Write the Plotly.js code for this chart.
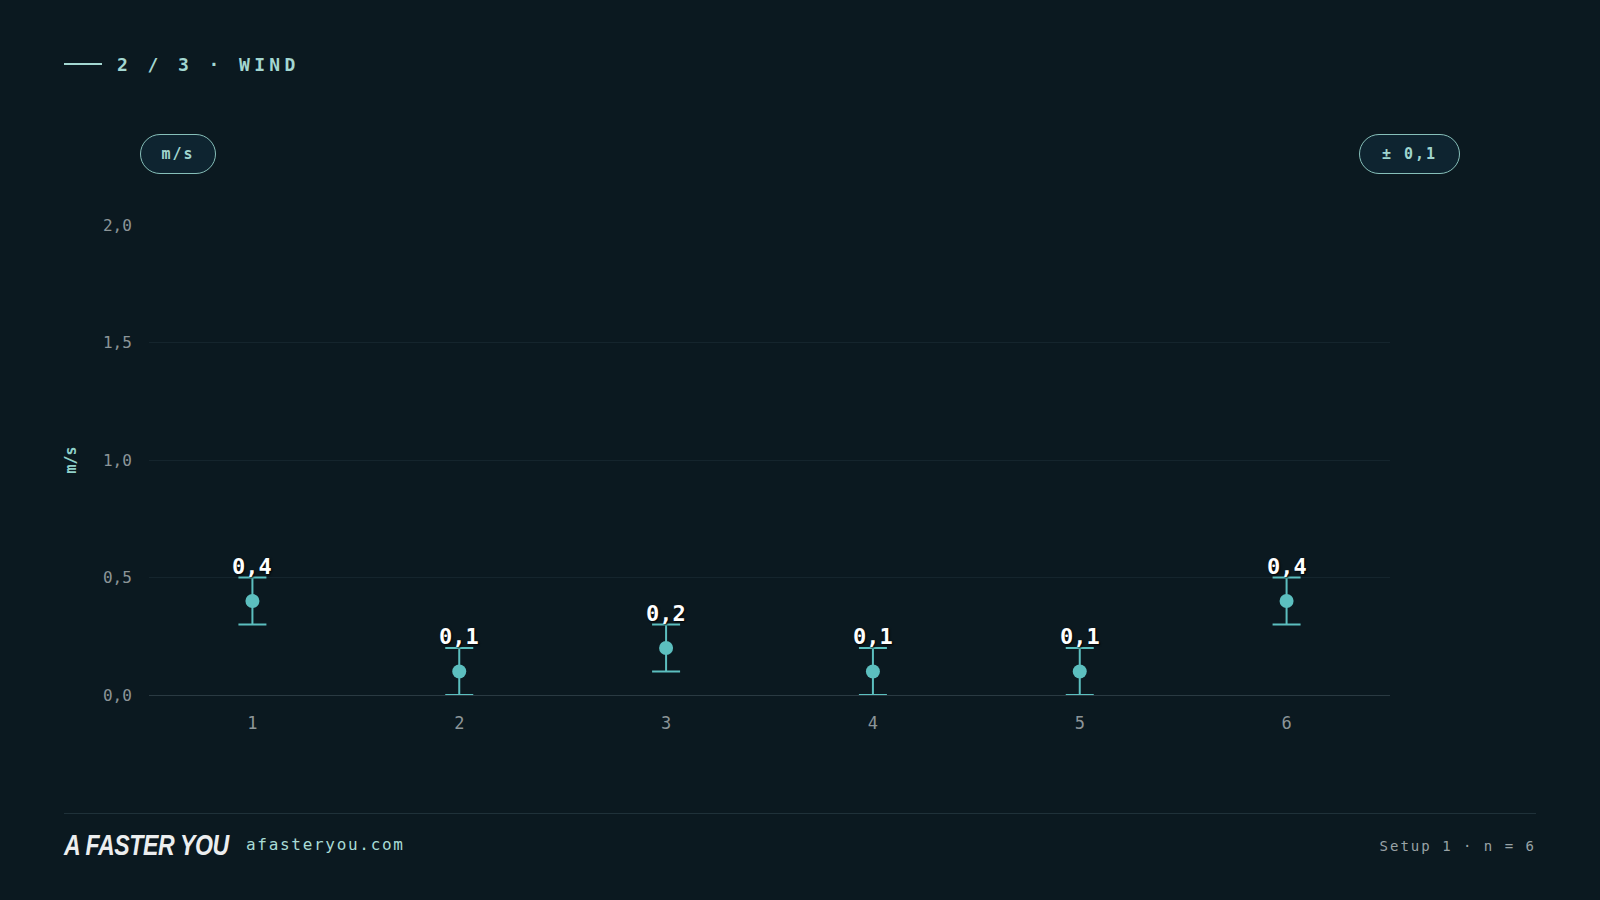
<!DOCTYPE html>
<html>
<head>
<meta charset="utf-8">
<script src="https://cdn.plot.ly/plotly-3.0.1.min.js"></script>
<style>
  html, body { margin: 0; padding: 0; background: #0b1920; width: 1600px; height: 900px; overflow: hidden; }
  #wrap { position: relative; width: 1600px; height: 900px; }
  #chart { position: absolute; left: 0; top: 0; width: 1600px; height: 900px; }
  .ov { position: absolute; pointer-events: none; font-family: "DejaVu Sans Mono", monospace; white-space: nowrap; }
  #hline { left: 64px; top: 63px; width: 38px; height: 2px; background: #a3d7d1; }
  #htext { left: 117px; top: 53px; font-size: 18px; font-weight: bold; letter-spacing: 4.4px; color: #a3d7d1; line-height: 24px; }
  .pill { border: 1.5px solid #86bfb9; border-radius: 20px; background: #0e2430; color: #9fd5cf;
          font-size: 15px; font-weight: bold; letter-spacing: 2px; display: flex; align-items: center; justify-content: center; box-sizing: border-box; }
  #pill1 { left: 140px; top: 134px; width: 76px; height: 40px; }
  #pill2 { left: 1359px; top: 134px; width: 101px; height: 40px; }
  #fline { left: 64px; top: 813px; width: 1472px; height: 1px; background: #1f3139; }
  #logo { left: 64px; top: 829px; font-family: "Liberation Sans", sans-serif; font-weight: bold; font-style: italic;
          font-size: 30px; color: #eceeef; line-height: 32px; letter-spacing: -0.5px; transform: scaleX(0.77); transform-origin: 0 0; }
  #site { left: 246px; top: 834px; font-size: 16px; letter-spacing: 1.7px; color: #a8dcd6; line-height: 22px; }
  #setup { right: 64px; top: 836px; font-size: 14px; letter-spacing: 2px; color: #99a3a6; line-height: 20px; }
</style>
</head>
<body>
<div id="wrap">
  <div id="chart"></div>
  <div class="ov" id="hline"></div>
  <div class="ov" id="htext">2 / 3 · WIND</div>
  <div class="ov pill" id="pill1">m/s</div>
  <div class="ov pill" id="pill2">± 0,1</div>
  <div class="ov" id="fline"></div>
  <div class="ov" id="logo">A FASTER YOU</div>
  <div class="ov" id="site">afasteryou.com</div>
  <div class="ov" id="setup">Setup 1 · n = 6</div>
</div>
<script>
const categories = [1, 2, 3, 4, 5, 6];
const windValues = [0.4, 0.1, 0.2, 0.1, 0.1, 0.4];
const windErrors = [0.1, 0.1, 0.1, 0.1, 0.1, 0.1];
const yTickValues = [0, 0.5, 1.0, 1.5, 2.0];
const yAxisLabel = "m/s";

const teal = "#5cbfbf";
const fmt = v => v.toFixed(1).replace(".", ",");
const mono = "DejaVu Sans Mono, monospace";

const trace = {
  type: "scatter",
  mode: "markers",
  x: categories,
  y: windValues,
  marker: { color: teal, size: 14 },
  error_y: { type: "data", array: windErrors, visible: true, color: teal, thickness: 2, width: 14 },
  hoverinfo: "x+y",
  cliponaxis: false
};

const annotations = categories.map((c, i) => ({
  x: c,
  y: windValues[i] + windErrors[i],
  xref: "x", yref: "y",
  text: fmt(windValues[i]),
  showarrow: false,
  yanchor: "bottom",
  yshift: -3,
  font: { family: mono, size: 22, color: "#ffffff", weight: "bold", shadow: "1px 1px 2px #000000" }
}));

const layout = {
  width: 1600, height: 900,
  paper_bgcolor: "#0b1920",
  plot_bgcolor: "#0b1920",
  separators: ",.",
  margin: { l: 149, r: 210, t: 225, b: 205 },
  showlegend: false,
  font: { family: mono, color: "#8c9598" },
  xaxis: {
    range: [0.5, 6.5],
    tickvals: categories,
    ticktext: categories.map(String),
    showgrid: false,
    zeroline: false,
    showline: false,
    ticks: "outside", ticklen: 13, tickcolor: "rgba(0,0,0,0)",
    tickfont: { size: 17, color: "#8c9598" }
  },
  yaxis: {
    range: [0, 2.0],
    tickvals: yTickValues,
    tickformat: ".1f",
    showgrid: true,
    gridcolor: "#15252d",
    gridwidth: 1,
    zeroline: true,
    zerolinecolor: "#2a3a42",
    zerolinewidth: 1,
    showline: false,
    ticks: "outside", ticklen: 13, tickcolor: "rgba(0,0,0,0)",
    tickfont: { size: 16, color: "#8c9598" },
    title: { text: yAxisLabel, standoff: 22, font: { size: 15, color: "#8fd0c9", weight: "bold" } }
  },
  annotations: annotations
};

Plotly.newPlot("chart", [trace], layout, { displayModeBar: false, staticPlot: true });
</script>
</body>
</html>
